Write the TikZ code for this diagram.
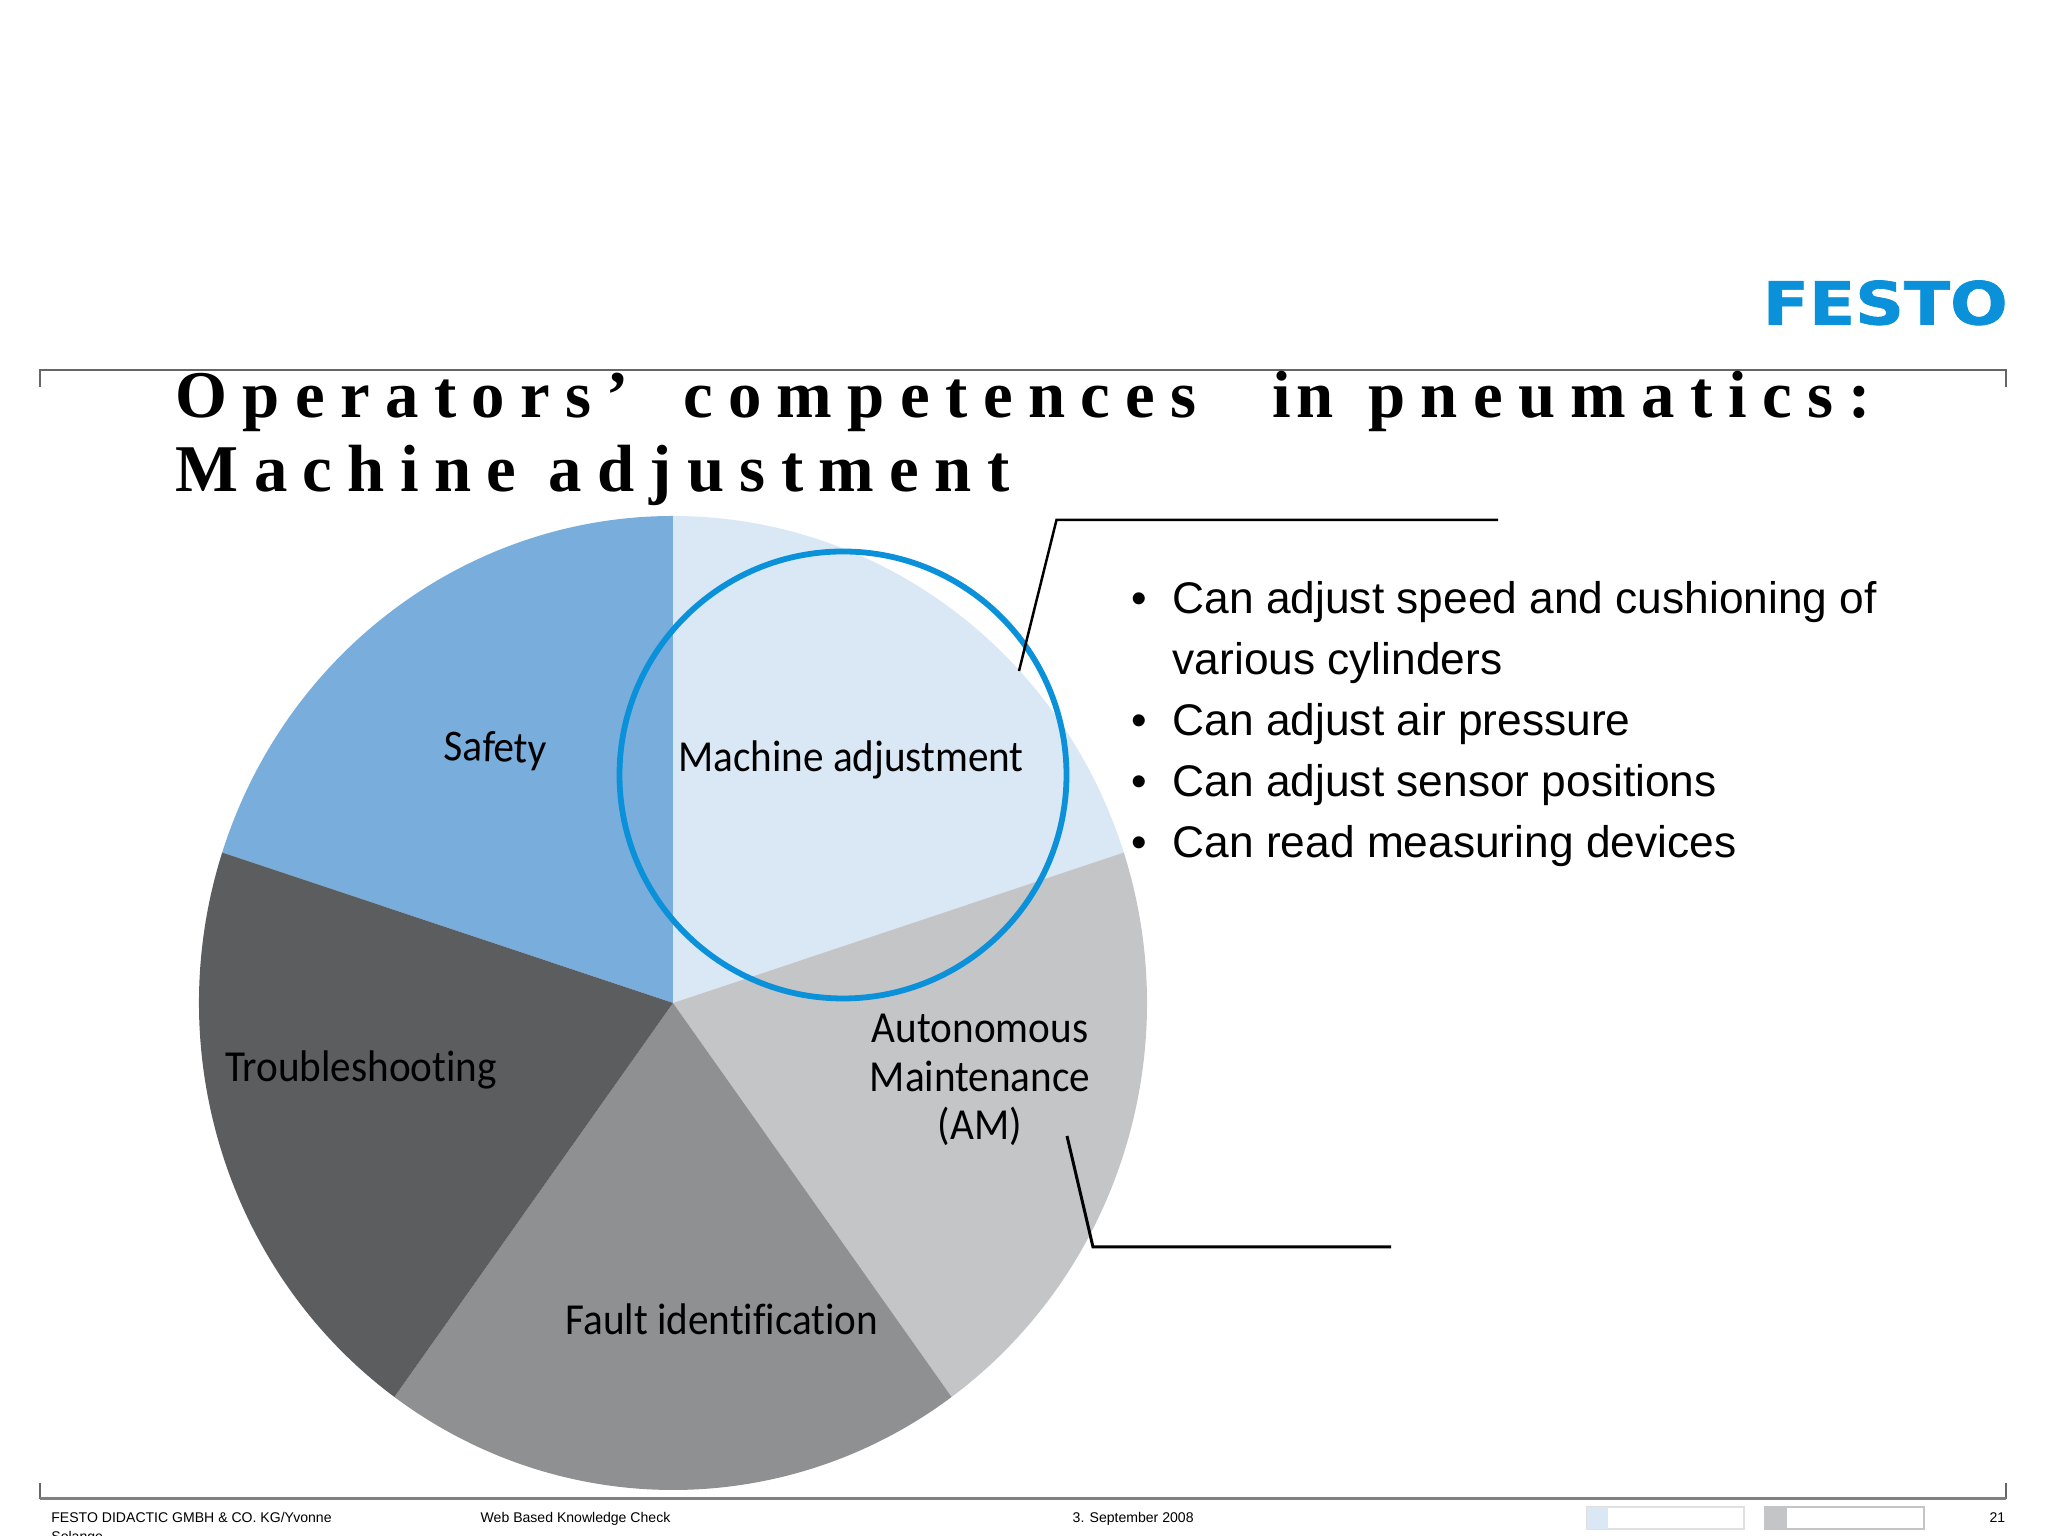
\documentclass[tikz,border=0pt]{standalone}
\usepackage{fontspec}
\setmainfont{Liberation Sans}
\newfontfamily\titlefont[LetterSpace=23]{Liberation Serif}
\newfontfamily\pielabelfont[FakeStretch=0.93,Ligatures=NoCommon]{Carlito}
\newfontfamily\logofont[FakeBold=1.2]{DejaVu Sans}
\definecolor{festoblue}{HTML}{0A91DA}
\definecolor{safetyblue}{HTML}{79AEDC}
\definecolor{machineblue}{HTML}{D9E8F4}
\definecolor{amgray}{HTML}{C4C5C7}
\definecolor{faultgray}{HTML}{8E9091}
\definecolor{troublegray}{HTML}{5B5D5F}
\tikzset{
  pielabel/.style={anchor=base, inner sep=0, align=center, font=\pielabelfont\fontsize{12.6}{13.8}\selectfont},
  footertext/.style={inner sep=0, font=\fontsize{4.0}{5.2}\selectfont},
  titleline/.style={anchor=base west, inner sep=0, font=\titlefont\bfseries\fontsize{19}{21}\selectfont},
}
\begin{document}
\begin{tikzpicture}
\useasboundingbox (0,0) rectangle (20.48,15.36);
% logo
\node[anchor=south west, inner sep=0, text=festoblue] (festologo) at (17.62,12.10) {\resizebox{2.45cm}{0.44cm}{\logofont\bfseries FESTO}};
% rules
\draw[gray!80!black, line width=.15mm] (.40,11.49) -- (.40,11.66) -- (20.06,11.66) -- (20.06,11.49);
\draw[gray!80!black, line width=.15mm] (.40,.53) -- (.40,.37);
\draw[gray!80!black, line width=.15mm] (20.06,.53) -- (20.06,.37);
\draw[gray, line width=.3mm] (.40,.37) -- (20.06,.37);
% title
\node[titleline] (titlea) at (1.75,11.18) {Operators’\hspace{.22cm} competences\hspace{.44cm} i\kern.05cm n\hspace{.03cm} pneumatics:};
\node[titleline] (titleb) at (1.75,10.44) {Machine adjustment};
% pie
\coordinate (piecentre) at (6.73,5.33);
\fill[safetyblue] (piecentre) -- ++(162:4.74 and 4.87) arc (162:90:4.74 and 4.87) -- cycle;
\fill[machineblue] (piecentre) -- ++(90:4.74 and 4.87) arc (90:18:4.74 and 4.87) -- cycle;
\fill[amgray] (piecentre) -- ++(18:4.74 and 4.87) arc (18:-54:4.74 and 4.87) -- cycle;
\fill[faultgray] (piecentre) -- ++(-54:4.74 and 4.87) arc (-54:-126:4.74 and 4.87) -- cycle;
\fill[troublegray] (piecentre) -- ++(-126:4.74 and 4.87) arc (-126:-198:4.74 and 4.87) -- cycle;
\draw[festoblue, line width=.58mm] (8.43,7.61) circle (2.235);
% slice labels
\node[pielabel, rotate=-2] (safety) at (4.95,7.74) {Safety};
\node[pielabel] (machine) at (8.51,7.645) {Machine adjustment};
\node[pielabel] (autonomous) at (9.80,3.96) {Autonomous\\Maintenance\\(AM)};
\node[pielabel] (trouble) at (3.61,4.54) {Troubleshooting};
\node[pielabel] (fault) at (7.22,2.01) {Fault identification};
% callouts
\coordinate (upa) at (10.19,8.65);
\coordinate (upb) at (10.565,10.16);
\coordinate (upc) at (14.98,10.16);
\draw[line width=.25mm] (upa) -- (upb) -- (upc);
\coordinate (lowa) at (10.67,4.00);
\coordinate (lowb) at (10.93,2.89);
\coordinate (lowc) at (13.91,2.89);
\draw[line width=.3mm] (lowa) -- (lowb) -- (lowc);
% bullets
\node[anchor=north west, inner sep=0, align=left, font=\fontsize{12.6}{17.35}\selectfont] (skills) at (11.72,9.55) {%
\llap{\textbullet\hspace{7.4pt}}Can adjust speed and cushioning of\\
various cylinders\\
\llap{\textbullet\hspace{7.4pt}}Can adjust air pressure\\
\llap{\textbullet\hspace{7.4pt}}Can adjust sensor positions\\
\llap{\textbullet\hspace{7.4pt}}Can read measuring devices};
% footer
\node[footertext, anchor=north west, align=left] (company) at (.507,.24) {FESTO DIDACTIC GMBH \& CO. KG/Yvonne\\Solange};
\node[footertext, anchor=base west] (course) at (4.80,.13) {Web Based Knowledge Check};
\node[footertext, anchor=base west] (datum) at (10.72,.13) {3. September 2008};
\node[footertext, anchor=base east] (pagenum) at (20.06,.13) {21};
\draw[black!12, line width=.2mm] (15.87,.07) rectangle (17.44,.29);
\fill[machineblue] (15.87,.07) rectangle (16.08,.29);
\draw[amgray, line width=.2mm] (17.65,.07) rectangle (19.24,.29);
\fill[amgray] (17.65,.07) rectangle (17.87,.29);
\end{tikzpicture}
\end{document}
